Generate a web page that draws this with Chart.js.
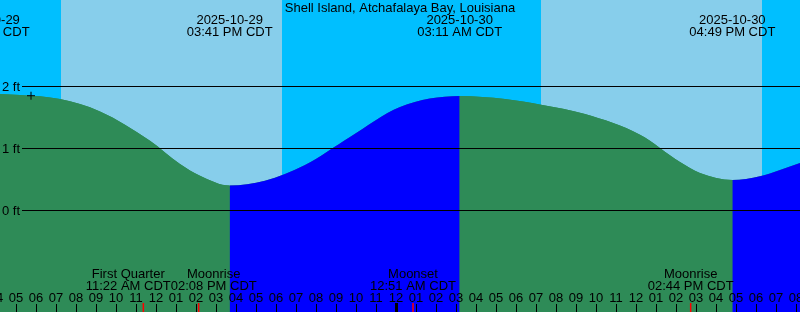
<!DOCTYPE html>
<html>
<head>
<meta charset="utf-8">
<script src="https://cdn.jsdelivr.net/npm/chart.js@4.4.1/dist/chart.umd.min.js"></script>
<style>
  body { margin: 0; background: #fff; }
  canvas { display: block; }
</style>
</head>
<body>
<canvas id="tideChart" width="800" height="312"></canvas>
<script>
// all hours are counted from 2025-10-29 00:00 CDT
const title = 'Shell Island, Atchafalaya Bay, Louisiana';

// tide curve, feet
const tideHours = [3.53, 5.2, 7.2, 9.2, 11.7, 13.2, 14.2, 15.683,
    17.45, 19.45, 21.7, 24.2, 27.183,
    29.45, 31.25, 33.45, 36.2, 38.2, 39.2, 40.817,
    42.2, 43.2, 44.2];
const tideFeet = [1.88, 1.855, 1.79, 1.59, 1.118, 0.742, 0.553, 0.395,
    0.473, 0.726, 1.177, 1.661, 1.839,
    1.79, 1.698, 1.548, 1.215, 0.774, 0.597, 0.484,
    0.544, 0.645, 0.758];

// high / low labels
const extremeHours = [3.53, 15.683, 27.183, 40.817];
const extremeDates = ['2025-10-29', '2025-10-29', '2025-10-30', '2025-10-30'];
const extremeTimes = ['03:32 AM CDT', '03:41 PM CDT', '03:11 AM CDT', '04:49 PM CDT'];

// daylight
const sunriseHours = [7.25, 31.25];
const sunsetHours = [18.3, 42.3];

// moon events
const moonHours = [11.367, 14.133, 24.85, 38.733];
const moonNames = ['First Quarter', 'Moonrise', 'Moonset', 'Moonrise'];
const moonTimes = ['11:22 AM CDT', '02:08 PM CDT', '12:51 AM CDT', '02:44 PM CDT'];

const footTicks = [0, 1, 2];
const markHours = [5.75];
const markFeet = [1.843];

const FONT = '13px "Liberation Sans", Arial, sans-serif';
const FALLING = '#2e8b57';
const RISING = '#0000ff';

function hourLabel(h) {
    let v = h % 12;
    if (v === 0) v = 12;
    return (v < 10 ? '0' : '') + v;
}

const tideDecor = {
    id: 'tideDecor',
    beforeDatasetsDraw(chart) {
        const { ctx, chartArea: a, scales: { x } } = chart;
        ctx.save();
        ctx.fillStyle = '#00bfff';
        ctx.fillRect(a.left, a.top, a.width, a.height);
        ctx.fillStyle = '#87ceeb';
        sunriseHours.forEach((r, i) => {
            const x0 = x.getPixelForValue(r);
            const x1 = x.getPixelForValue(sunsetHours[i]);
            ctx.fillRect(x0, a.top, x1 - x0, a.height);
        });
        ctx.restore();
    },
    afterDatasetsDraw(chart) {
        const { ctx, chartArea: a, scales: { x, y } } = chart;
        ctx.save();
        ctx.font = FONT;
        ctx.fillStyle = '#000';
        ctx.textBaseline = 'alphabetic';

        // height lines
        footTicks.forEach(v => {
            const py = Math.round(y.getPixelForValue(v));
            ctx.fillRect(22, py, a.right - 22, 1);
            ctx.textAlign = 'left';
            ctx.fillText(v + ' ft', 2, py + 5);
        });

        ctx.textAlign = 'center';
        ctx.fillText(title, 400, 12);

        extremeHours.forEach((h, i) => {
            const px = x.getPixelForValue(h);
            ctx.fillText(extremeDates[i], px, 24);
            ctx.fillText(extremeTimes[i], px, 36);
        });

        // hour ticks
        for (let h = Math.floor(x.min); h <= Math.ceil(x.max); h++) {
            const px = x.getPixelForValue(h);
            ctx.fillText(hourLabel(h), px, 302);
            if (h % 24 === 0) {
                ctx.fillRect(Math.round(px) - 1, 303, 3, 9);
            } else {
                ctx.fillRect(Math.round(px), 304, 1, 8);
            }
        }

        // moon events, labels pushed apart when they overlap
        const centers = moonHours.map(h => x.getPixelForValue(h));
        const widths = moonNames.map((n, i) => Math.max(ctx.measureText(n).width, ctx.measureText(moonTimes[i]).width));
        for (let i = 0; i < centers.length - 1; i++) {
            const over = (centers[i] + widths[i] / 2) - (centers[i + 1] - widths[i + 1] / 2);
            if (over > 0) {
                centers[i] -= over / 2;
                centers[i + 1] += over / 2;
            }
        }
        moonHours.forEach((h, i) => {
            const px = x.getPixelForValue(h);
            ctx.fillStyle = '#ff0000';
            ctx.fillRect(px - 0.75, 303, 1.5, 9);
            ctx.fillStyle = '#000';
            ctx.fillText(moonNames[i], centers[i], 278);
            ctx.fillText(moonTimes[i], centers[i], 290);
        });
        ctx.restore();
    }
};

const tidePoints = tideHours.map((h, i) => ({ x: h, y: tideFeet[i] }));

const tideChart = new Chart(document.getElementById('tideChart'), {
    type: 'line',
    data: {
        datasets: [{
            data: markHours.map((h, i) => ({ x: h, y: markFeet[i] })),
            showLine: false,
            pointStyle: 'cross',
            pointRadius: 4,
            pointBorderWidth: 1,
            pointBorderColor: '#000',
            pointBackgroundColor: '#000'
        }, {
            // rising / falling colouring
            data: tidePoints,
            fill: 'start',
            borderWidth: 0,
            borderColor: 'rgba(0,0,0,0)',
            backgroundColor: FALLING,
            pointRadius: 0,
            cubicInterpolationMode: 'monotone',
            segment: {
                backgroundColor: c => c.p1.parsed.y > c.p0.parsed.y ? RISING : FALLING
            }
        }, {
            // plain underlay so no seam shows where the colour changes
            data: tidePoints,
            fill: 'start',
            borderWidth: 0,
            borderColor: 'rgba(0,0,0,0)',
            backgroundColor: FALLING,
            pointRadius: 0,
            cubicInterpolationMode: 'monotone'
        }]
    },
    options: {
        responsive: false,
        animation: false,
        layout: { padding: 0, autoPadding: false },
        plugins: { legend: { display: false }, tooltip: { enabled: false } },
        scales: {
            x: { type: 'linear', min: 4.2, max: 44.2, display: false },
            y: { min: -102 / 62, max: 210 / 62, display: false }
        }
    },
    plugins: [tideDecor]
});
</script>
</body>
</html>
